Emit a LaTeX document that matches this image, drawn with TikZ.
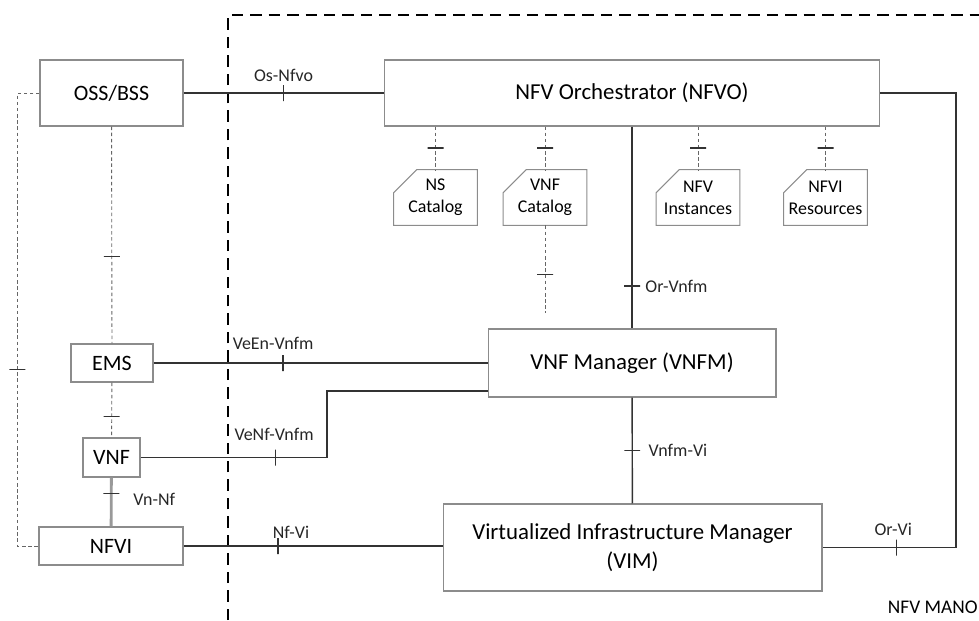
\documentclass[tikz,border=0pt]{standalone}
\usepackage{fontspec}
\setmainfont{Carlito}
\usetikzlibrary{calc}
\colorlet{boxgray}{black!45}
\colorlet{linegray}{black!80}

\begin{document}
\begin{tikzpicture}[
    x=0.02cm, y=-0.02cm,
    box/.style={draw=boxgray, line width=0.6pt, fill=white, inner sep=0pt, align=center},
    bigbox/.style={box, font=\fontsize{13}{16.5}\selectfont},
    smallbox/.style={box, font=\fontsize{12.5}{14}\selectfont},
    catbox/.style={inner sep=0pt, minimum width=1.66cm, minimum height=1.1cm, align=center, font=\fontsize{10.2}{12.5}\selectfont},
    catline/.style={draw=boxgray, line width=0.6pt},
    conn/.style={draw=linegray, line width=0.8pt},
    dconn/.style={draw=black!60, line width=0.5pt, dashed, dash pattern=on 2pt off 1.5pt},
    vtick/.style={draw=linegray, solid, line width=0.7pt, minimum width=0pt, minimum height=0.32cm, inner sep=0pt},
    htick/.style={draw=linegray, solid, line width=0.7pt, minimum height=0pt, minimum width=0.32cm, inner sep=0pt},
    lbl/.style={font=\fontsize{10.2}{12}\selectfont, inner sep=1pt, text=black!85},
]
    \useasboundingbox (0,0) rectangle (979,620);

    % MANO boundary
    \draw [line width=1.4pt, dash pattern=on 6.5pt off 4pt] (228,620) -- (228,15) -- (979,15);
    \node [font=\fontsize{11}{13}\selectfont, anchor=east, inner sep=0pt] (mano) at (978,607) {NFV MANO};

    % boxes
    \node [smallbox, minimum width=2.86cm, minimum height=1.32cm] (oss) at (111.5,93) {OSS/BSS};
    \node [bigbox, minimum width=9.92cm, minimum height=1.32cm] (nfvo) at (632,93) {NFV Orchestrator (NFVO)};
    \node [smallbox, minimum width=1.64cm, minimum height=0.76cm] (ems) at (112,363) {EMS};
    \node [smallbox, minimum width=1.14cm, minimum height=0.78cm] (vnf) at (111.5,457.5) {VNF};
    \node [smallbox, minimum width=2.88cm, minimum height=0.76cm] (nfvi) at (111,546) {NFVI};
    \node [bigbox, minimum width=5.76cm, minimum height=1.36cm] (vnfm) at (632,363) {VNF Manager (VNFM)};
    \node [bigbox, minimum width=7.58cm, minimum height=1.74cm] (vim) at (632.5,547.5) {Virtualized Infrastructure Manager\\(VIM)};

    % catalogs
    \node [catbox] (nscat) at (435.5,197.5) {NS\\Catalog};
    \node [catbox] (vnfcat) at (545,197.5) {VNF\\Catalog};
    \node [catbox] (inscat) at (698,197.5) {NFV\\Instances};
    \node [catbox] (rescat) at (825.5,197.5) {NFVI\\Resources};
    \foreach \c in {nscat,vnfcat,inscat,rescat} {
        \draw [catline] ($(\c.north west)+(23,0)$) -- (\c.north east) -- (\c.south east)
            -- (\c.south west) -- ($(\c.north west)+(0,23)$) -- cycle;
        \draw [dconn] (nfvo.south -| \c) -- node[htick, pos=.5]{} (\c);
    }
    \coordinate (catend) at (545,313);
    \draw [dconn] (vnfcat) -- node[htick, pos=.56]{} (catend);

    % reference points
    \coordinate (vnfbend) at (327,391);
    \coordinate (orvi) at (956,547.5);

    % reference points connections
    \draw [conn] (oss) -- node[vtick, pos=.5]{} node[lbl, pos=.5, yshift=0.36cm]{Os-Nfvo} (nfvo);
    \draw [conn] (nfvo) -- node[htick, pos=.79]{} node[lbl, pos=.79, anchor=west, xshift=0.22cm]{Or-Vnfm} (vnfm);
    \draw [conn] (vnfm) -- node[htick, pos=.5]{} node[lbl, pos=.5, anchor=west, xshift=0.28cm]{Vnfm-Vi} (vim);
    \draw [conn] (nfvo.east) -| (orvi) -- node[vtick, pos=.448]{} node[lbl, pos=.47, yshift=0.36cm]{Or-Vi} (vim.east);
    \draw [conn] (ems) -- node[vtick, pos=.388]{} node[lbl, pos=.358, yshift=0.4cm]{VeEn-Vnfm} (ems -| vnfm.west);
    \draw [conn] (vnf) -| node[vtick, pos=.361]{} node[lbl, pos=.358, yshift=0.46cm]{VeNf-Vnfm} (vnfbend) -- (vnfbend -| vnfm.west);
    \draw [conn] (nfvi) -- node[vtick, pos=.365]{} node[lbl, pos=.415, yshift=0.28cm]{Nf-Vi} (nfvi -| vim.west);

    % element management side
    \draw [dconn] (oss) -- node[htick, pos=.6]{} (ems);
    \draw [dconn] (ems) -- node[htick, pos=.62]{} (vnf);
    \draw [draw=black!40, line width=1.6pt] (vnf) -- node[htick, pos=.32]{} node[lbl, pos=.32, anchor=west, xshift=0.38cm, yshift=-0.12cm]{Vn-Nf} (nfvi);
    \draw [dconn] (oss.west) -- ++(-22,0) |- node[htick, pos=.305]{} (nfvi.west);
\end{tikzpicture}
\end{document}
